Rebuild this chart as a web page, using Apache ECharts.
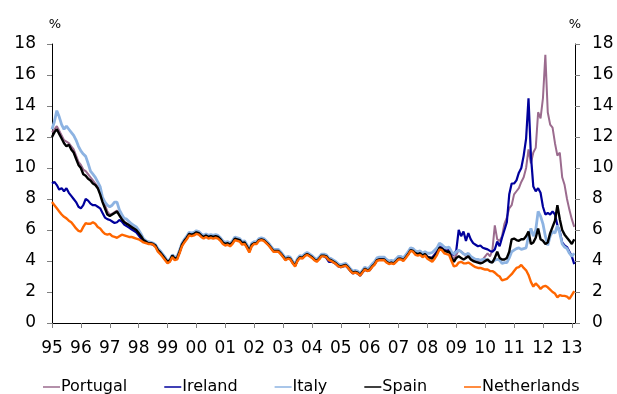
<!DOCTYPE html>
<html>
<head>
<meta charset="utf-8">
<script src="https://cdn.jsdelivr.net/npm/echarts@6.0.0/dist/echarts.min.js"></script>
<style>
html, body { margin: 0; padding: 0; background: #fff; }
#chart { width: 617px; height: 394px; }
</style>
</head>
<body>
<div id="chart"></div>
<script>
// monthly observations, Jan 1995 .. Feb 2013 (218 points)
var months = [];
for (var i = 0; i < 218; i++) months.push(+(1995 + i / 12).toFixed(4));

var names = ['Portugal', 'Ireland', 'Italy', 'Spain', 'Netherlands'];
var colors = ['#9b6b8e', '#00009c', '#8db3e2', '#000000', '#ff6600'];

var portugal = [
  12.3, 12.5, 12.7, 12.4, 12.1, 11.8, 11.7, 11.6, 11.4, 11.2, 10.8, 10.4, // 95
  10.2, 9.9, 9.8, 9.6, 9.4, 9.2, 9.0, 8.8, 8.5, 8.0, 7.6, 7.2,
  7.0, 7.05, 7.15, 7.25, 7.0, 6.75, 6.55, 6.45, 6.35, 6.25, 6.15, 6.05,
  5.85, 5.65, 5.4, 5.3, 5.2, 5.2, 5.15, 5.05, 4.75, 4.6, 4.4, 4.2,
  3.95, 4.05, 4.35, 4.2, 4.2, 4.6, 5.05, 5.3, 5.5, 5.75, 5.75, 5.8,     // 99
  5.9, 5.85, 5.7, 5.6, 5.7, 5.6, 5.65, 5.6, 5.65, 5.6, 5.45, 5.25,
  5.15, 5.2, 5.1, 5.25, 5.5, 5.45, 5.4, 5.2, 5.25, 5.0, 4.7, 5.1,
  5.2, 5.2, 5.4, 5.45, 5.4, 5.25, 5.1, 4.9, 4.7, 4.7, 4.7, 4.55,
  4.35, 4.15, 4.25, 4.2, 3.95, 3.75, 4.1, 4.3, 4.25, 4.4, 4.5, 4.4,
  4.3, 4.15, 4.05, 4.2, 4.4, 4.4, 4.35, 4.15, 4.1, 4.0, 3.9, 3.75,     // 04
  3.7, 3.75, 3.8, 3.65, 3.45, 3.3, 3.35, 3.3, 3.15, 3.35, 3.55, 3.45,
  3.55, 3.75, 3.9, 4.15, 4.2, 4.2, 4.2, 4.05, 3.95, 4.0, 3.95, 4.1,
  4.25, 4.25, 4.15, 4.35, 4.55, 4.8, 4.75, 4.6, 4.55, 4.6, 4.45, 4.55,
  4.3, 4.25, 4.25, 4.45, 4.65, 4.95, 4.9, 4.75, 4.7, 4.75, 4.4, 4.1,
  4.4, 4.7, 4.6, 4.5, 4.3, 4.3, 4.2, 4.1, 4.0, 4.0, 4.0, 4.1,           // 09
  4.3, 4.5, 4.3, 4.7, 6.3, 5.4, 5.3, 5.6, 6.4, 6.8, 7.4, 7.6,
  8.3, 8.5, 8.7, 9.1, 9.4, 10.0, 11.2, 10.3, 11.0, 11.3, 13.6, 13.2,
  14.5, 17.3, 13.6, 12.8, 12.6, 11.6, 10.8, 11.0, 9.4, 8.9, 8.0, 7.3,
  6.7, 6.2
];

var ireland = [
  9.0, 9.1, 8.9, 8.6, 8.7, 8.5, 8.7, 8.4, 8.2, 8.0, 7.8, 7.5,           // 95
  7.4, 7.6, 8.0, 7.9, 7.7, 7.6, 7.6, 7.5, 7.4, 7.1, 6.8, 6.7,
  6.65, 6.55, 6.45, 6.5, 6.65, 6.55, 6.35, 6.25, 6.15, 6.05, 5.95, 5.85,
  5.65, 5.45, 5.3, 5.2, 5.15, 5.1, 5.05, 4.95, 4.65, 4.5, 4.3, 4.1,
  3.9, 4.0, 4.3, 4.1, 4.15, 4.55, 5.0, 5.25, 5.45, 5.7, 5.65, 5.7,      // 99
  5.8, 5.75, 5.6, 5.5, 5.6, 5.5, 5.55, 5.5, 5.55, 5.5, 5.35, 5.15,
  5.05, 5.1, 5.0, 5.15, 5.4, 5.35, 5.3, 5.1, 5.15, 4.9, 4.6, 5.0,
  5.15, 5.15, 5.35, 5.4, 5.35, 5.2, 5.05, 4.85, 4.65, 4.65, 4.65, 4.5,
  4.3, 4.1, 4.2, 4.15, 3.9, 3.7, 4.05, 4.25, 4.2, 4.35, 4.45, 4.35,
  4.25, 4.1, 4.0, 4.15, 4.35, 4.3, 4.2, 3.95, 3.95, 3.9, 3.8, 3.65,     // 04
  3.6, 3.65, 3.7, 3.55, 3.35, 3.2, 3.25, 3.2, 3.05, 3.25, 3.45, 3.35,
  3.4, 3.65, 3.8, 4.05, 4.1, 4.1, 4.1, 3.95, 3.85, 3.9, 3.85, 4.0,
  4.15, 4.15, 4.05, 4.25, 4.45, 4.7, 4.65, 4.45, 4.4, 4.45, 4.3, 4.4,
  4.25, 4.2, 4.2, 4.4, 4.6, 4.9, 4.85, 4.7, 4.65, 4.7, 4.5, 4.4,
  4.7, 6.0, 5.6, 5.9, 5.3, 5.8, 5.4, 5.15, 5.05, 4.95, 5.0, 4.85,       // 09
  4.8, 4.75, 4.65, 4.6, 4.75, 5.25, 4.95, 5.5, 6.0, 6.5, 8.3, 9.0,
  9.0, 9.2, 9.7, 10.0, 10.8, 11.9, 14.5, 10.8, 8.8, 8.5, 8.7, 8.4,
  7.5, 7.0, 7.1, 7.0, 7.2, 7.0, 6.3, 5.9, 5.2, 5.0, 4.9, 4.6,
  4.3, 3.8
];

var italy = [
  12.5, 13.0, 13.7, 13.3, 12.8, 12.5, 12.7, 12.5, 12.3, 12.1, 11.8, 11.4, // 95
  11.1, 10.9, 10.75, 10.3, 9.8, 9.6, 9.4, 9.1, 8.8, 8.1, 7.8, 7.6,
  7.5, 7.6, 7.8, 7.8, 7.3, 7.0, 6.75, 6.7, 6.55, 6.4, 6.3, 6.2,
  6.0, 5.75, 5.45, 5.3, 5.25, 5.2, 5.15, 5.05, 4.8, 4.65, 4.45, 4.25,
  4.0, 4.1, 4.4, 4.25, 4.3, 4.7, 5.15, 5.4, 5.6, 5.85, 5.8, 5.85,       // 99
  5.95, 5.9, 5.75, 5.65, 5.75, 5.65, 5.7, 5.65, 5.7, 5.65, 5.5, 5.3,
  5.2, 5.25, 5.15, 5.3, 5.55, 5.5, 5.45, 5.25, 5.3, 5.05, 4.75, 5.15,
  5.25, 5.25, 5.45, 5.5, 5.45, 5.3, 5.15, 4.95, 4.75, 4.75, 4.75, 4.6,
  4.4, 4.2, 4.3, 4.25, 4.0, 3.8, 4.15, 4.35, 4.3, 4.45, 4.55, 4.45,
  4.35, 4.2, 4.1, 4.25, 4.45, 4.45, 4.4, 4.2, 4.15, 4.05, 3.95, 3.8,    // 04
  3.75, 3.8, 3.85, 3.7, 3.5, 3.35, 3.4, 3.35, 3.2, 3.4, 3.6, 3.5,
  3.6, 3.8, 3.95, 4.2, 4.25, 4.25, 4.25, 4.1, 4.0, 4.05, 4.0, 4.15,
  4.3, 4.3, 4.2, 4.4, 4.6, 4.85, 4.8, 4.65, 4.6, 4.65, 4.5, 4.6,
  4.5, 4.5, 4.55, 4.7, 4.85, 5.15, 5.05, 4.9, 4.85, 4.9, 4.6, 4.45,
  4.6, 4.7, 4.6, 4.45, 4.4, 4.5, 4.3, 4.2, 4.1, 4.1, 4.05, 4.1,         // 09
  4.1, 4.05, 3.95, 3.95, 4.05, 4.1, 4.05, 3.85, 3.9, 3.9, 4.2, 4.6,
  4.7, 4.8, 4.85, 4.75, 4.8, 4.85, 5.6, 6.1, 5.6, 6.0, 7.2, 6.9,
  6.4, 5.6, 5.0, 5.6, 5.9, 5.8, 6.3, 5.8, 5.1, 4.9, 4.8, 4.5,
  4.3, 4.5
];

var spain = [
  12.0, 12.3, 12.5, 12.2, 11.9, 11.6, 11.4, 11.5, 11.2, 11.0, 10.6, 10.2, // 95
  10.0, 9.6, 9.5, 9.3, 9.2, 9.0, 8.9, 8.7, 8.3, 7.8, 7.4, 7.0,
  6.9, 7.0, 7.1, 7.2, 6.95, 6.7, 6.5, 6.4, 6.3, 6.2, 6.1, 6.0,
  5.8, 5.6, 5.35, 5.25, 5.15, 5.15, 5.1, 5.0, 4.7, 4.55, 4.35, 4.15,
  3.95, 4.05, 4.35, 4.15, 4.2, 4.6, 5.05, 5.3, 5.5, 5.75, 5.7, 5.75,    // 99
  5.85, 5.8, 5.65, 5.55, 5.65, 5.55, 5.6, 5.55, 5.6, 5.55, 5.4, 5.2,
  5.1, 5.15, 5.05, 5.2, 5.45, 5.4, 5.35, 5.15, 5.2, 4.95, 4.65, 5.05,
  5.15, 5.15, 5.35, 5.4, 5.35, 5.2, 5.05, 4.85, 4.65, 4.65, 4.65, 4.5,
  4.3, 4.1, 4.2, 4.15, 3.9, 3.7, 4.05, 4.25, 4.2, 4.35, 4.45, 4.35,
  4.25, 4.1, 4.0, 4.15, 4.35, 4.35, 4.3, 4.1, 4.05, 3.95, 3.85, 3.7,    // 04
  3.65, 3.7, 3.75, 3.6, 3.4, 3.25, 3.3, 3.25, 3.1, 3.3, 3.5, 3.4,
  3.45, 3.65, 3.8, 4.05, 4.1, 4.1, 4.1, 3.95, 3.85, 3.9, 3.85, 4.0,
  4.15, 4.15, 4.05, 4.25, 4.45, 4.7, 4.65, 4.5, 4.45, 4.5, 4.35, 4.45,
  4.25, 4.2, 4.15, 4.3, 4.5, 4.85, 4.8, 4.65, 4.6, 4.6, 4.2, 3.95,
  4.2, 4.3, 4.2, 4.1, 4.2, 4.3, 4.1, 4.0, 3.95, 3.9, 3.85, 3.9,         // 09
  4.0, 4.1, 3.95, 3.9, 4.2, 4.6, 4.2, 4.1, 4.1, 4.2, 4.6, 5.4,
  5.45, 5.35, 5.3, 5.4, 5.4, 5.6, 5.9, 5.1, 5.2, 5.5, 6.1, 5.4,
  5.3, 5.1, 5.2, 5.8, 6.2, 6.6, 7.6, 6.7, 6.0, 5.7, 5.5, 5.3,
  5.1, 5.4
];

var netherlands = [
  7.8, 7.6, 7.4, 7.2, 7.0, 6.85, 6.75, 6.6, 6.5, 6.3, 6.1, 5.95,        // 95
  5.9, 6.2, 6.45, 6.4, 6.4, 6.5, 6.4, 6.2, 6.1, 5.9, 5.75, 5.7,
  5.75, 5.6, 5.55, 5.5, 5.6, 5.7, 5.65, 5.6, 5.55, 5.55, 5.5, 5.45,
  5.4, 5.3, 5.2, 5.15, 5.1, 5.1, 5.05, 4.9, 4.6, 4.45, 4.25, 4.05,
  3.85, 3.95, 4.25, 4.05, 4.1, 4.5, 4.95, 5.2, 5.4, 5.65, 5.6, 5.65,    // 99
  5.75, 5.7, 5.55, 5.45, 5.55, 5.45, 5.5, 5.45, 5.5, 5.45, 5.3, 5.1,
  5.0, 5.05, 4.95, 5.1, 5.35, 5.3, 5.25, 5.05, 5.1, 4.85, 4.55, 4.95,
  5.1, 5.1, 5.3, 5.35, 5.3, 5.15, 5.0, 4.8, 4.6, 4.6, 4.6, 4.45,
  4.25, 4.05, 4.15, 4.1, 3.85, 3.65, 4.0, 4.2, 4.15, 4.3, 4.4, 4.3,
  4.2, 4.05, 3.95, 4.1, 4.3, 4.3, 4.25, 4.05, 4.0, 3.9, 3.8, 3.65,      // 04
  3.6, 3.65, 3.7, 3.55, 3.35, 3.2, 3.25, 3.2, 3.05, 3.25, 3.45, 3.35,
  3.4, 3.6, 3.75, 4.0, 4.05, 4.05, 4.05, 3.9, 3.8, 3.85, 3.8, 3.95,
  4.1, 4.1, 4.0, 4.2, 4.4, 4.65, 4.6, 4.4, 4.35, 4.4, 4.25, 4.35,
  4.15, 4.05, 3.95, 4.15, 4.4, 4.75, 4.7, 4.5, 4.45, 4.4, 4.0, 3.65,
  3.7, 3.9, 3.95, 3.85, 3.85, 3.9, 3.8, 3.7, 3.6, 3.55, 3.55, 3.5,      // 09
  3.45, 3.45, 3.35, 3.35, 3.25, 3.1, 3.0, 2.75, 2.8, 2.85, 3.0, 3.15,
  3.35, 3.55, 3.6, 3.75, 3.55, 3.4, 3.1, 2.65, 2.35, 2.55, 2.4, 2.2,
  2.35, 2.4, 2.3, 2.15, 2.0, 1.9, 1.65, 1.8, 1.75, 1.75, 1.7, 1.55,
  1.8, 2.05
];

var yearTicks = [];
for (var y = 1995; y <= 2013; y++) yearTicks.push(y);

function pairs(vals) {
  var out = [];
  for (var k = 0; k < vals.length; k++) out.push([months[k], vals[k]]);
  return out;
}

var allValues = [portugal, ireland, italy, spain, netherlands];
var widths = [2, 2.2, 2.8, 2.4, 2.4];

var chartDom = document.getElementById('chart');
var myChart = echarts.init(chartDom);

var axisFont = { fontFamily: 'DejaVu Sans', fontSize: 17, color: '#000' };

option = {
  animation: false,
  textStyle: { fontFamily: 'DejaVu Sans' },
  grid: { left: 52, right: 42, top: 44, bottom: 71 },
  legend: {
    data: names,
    icon: 'rect',
    left: 43,
    top: 379,
    padding: 0,
    itemWidth: 17,
    itemHeight: 1.5,
    itemGap: 37,
    textStyle: { fontFamily: 'DejaVu Sans', fontSize: 16, color: '#000', padding: [6, 0, 0, -4] }
  },
  xAxis: {
    type: 'value',
    min: 1995,
    max: 2013.11,
    interval: 1,
    axisLine: { lineStyle: { color: '#000', width: 1 } },
    axisTick: { length: 5, customValues: yearTicks, lineStyle: { color: '#808080' } },
    axisLabel: {
      margin: 17,
      customValues: yearTicks,
      fontFamily: axisFont.fontFamily, fontSize: axisFont.fontSize, color: axisFont.color,
      formatter: function (v) {
        if (Math.abs(v - Math.round(v)) > 1e-6) return '';
        return String(Math.round(v)).slice(2);
      }
    },
    splitLine: { show: false }
  },
  yAxis: [
    {
      type: 'value', min: 0, max: 18, interval: 2, position: 'left',
      name: '%', nameLocation: 'end', nameGap: 13,
      nameTextStyle: { fontFamily: 'DejaVu Sans', fontSize: 13, color: '#000', align: 'center', padding: [0, 0, 0, 6] },
      axisLine: { show: true, lineStyle: { color: '#000', width: 1 } },
      axisTick: { show: true, length: 5, lineStyle: { color: '#808080' } },
      axisLabel: { margin: 16, fontFamily: axisFont.fontFamily, fontSize: axisFont.fontSize, color: axisFont.color },
      splitLine: { show: false }
    },
    {
      type: 'value', min: 0, max: 18, interval: 2, position: 'right',
      name: '%', nameLocation: 'end', nameGap: 13,
      nameTextStyle: { fontFamily: 'DejaVu Sans', fontSize: 13, color: '#000', align: 'center' },
      axisLine: { show: true, lineStyle: { color: '#000', width: 1 } },
      axisTick: { show: true, length: 5, lineStyle: { color: '#808080' } },
      axisLabel: { margin: 17, fontFamily: axisFont.fontFamily, fontSize: axisFont.fontSize, color: axisFont.color },
      splitLine: { show: false }
    }
  ],
  series: names.map(function (n, idx) {
    return {
      name: n,
      type: 'line',
      data: pairs(allValues[idx]),
      symbol: 'none',
      color: colors[idx],
      lineStyle: { color: colors[idx], width: widths[idx] },
      yAxisIndex: 0
    };
  })
};

myChart.setOption(option);
</script>
</body>
</html>
